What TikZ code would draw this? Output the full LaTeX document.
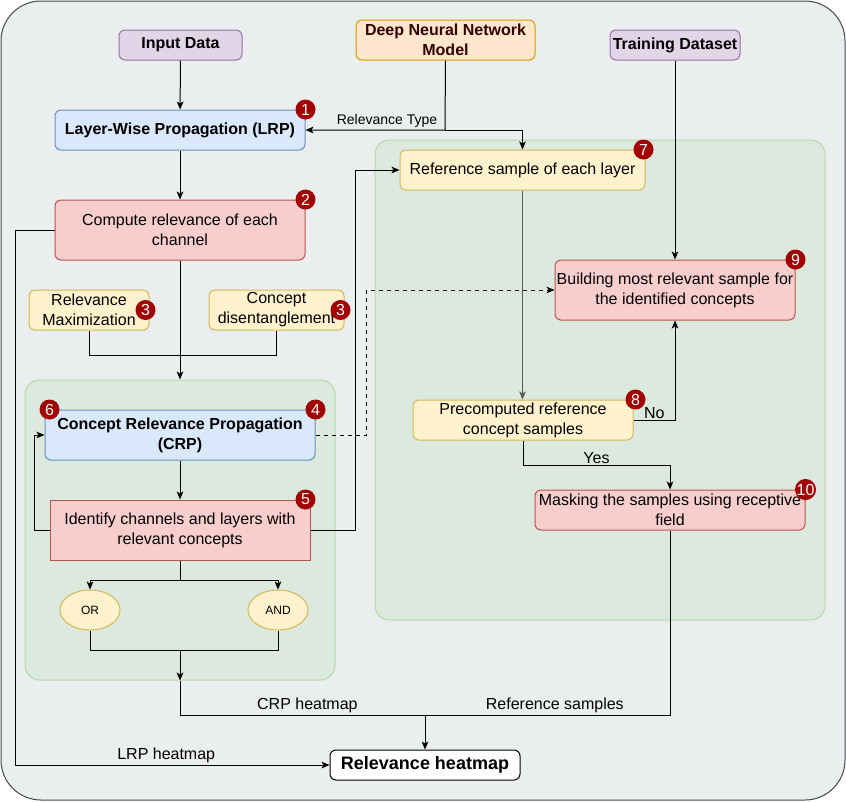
\documentclass[tikz,border=0pt]{standalone}
\usepackage{fontspec}
\setmainfont{Liberation Sans}
\usetikzlibrary{arrows.meta,shapes.geometric}

\definecolor{bgGray}{HTML}{EBEEEE}
\definecolor{frameGray}{HTML}{45494D}
\definecolor{purpleFill}{HTML}{E1D5E7}
\definecolor{purpleLine}{HTML}{9673A6}
\definecolor{orangeFill}{HTML}{FFE6CC}
\definecolor{orangeLine}{HTML}{D79B00}
\definecolor{blueFill}{HTML}{DAE8FC}
\definecolor{blueLine}{HTML}{6C8EBF}
\definecolor{redFill}{HTML}{F8CECC}
\definecolor{redLine}{HTML}{B85450}
\definecolor{yellowFill}{HTML}{FFF2CC}
\definecolor{yellowLine}{HTML}{D6B656}
\definecolor{greenFill}{HTML}{DCE9DE}
\definecolor{greenLine}{HTML}{B5D7A8}
\definecolor{badgeRed}{HTML}{A20000}
\definecolor{modelText}{HTML}{330000}

\tikzset{every picture/.style={line width=0.75pt},
  txt/.style={font=\fontsize{12}{15}\selectfont, align=center, inner sep=0.75pt},
  flowbox/.style={txt, draw, rounded corners=4.5pt},
  purplebox/.style={flowbox, fill=purpleFill, draw=purpleLine, font=\fontsize{12}{15}\selectfont\bfseries},
  orangebox/.style={flowbox, fill=orangeFill, draw=orangeLine, text=modelText, font=\fontsize{12}{15}\selectfont\bfseries},
  bluebox/.style={flowbox, fill=blueFill, draw=blueLine, font=\fontsize{12}{15}\selectfont\bfseries},
  redbox/.style={flowbox, fill=redFill, draw=redLine},
  yellowbox/.style={flowbox, fill=yellowFill, draw=yellowLine},
  gatenode/.style={ellipse, draw=yellowLine, fill=yellowFill, inner sep=0pt, minimum width=45pt, minimum height=30pt, font=\fontsize{9}{10}\selectfont},
  groupbox/.style={draw=greenLine, fill=greenFill, rounded corners=11pt},
  badge/.style={circle, fill=badgeRed, text=white, minimum size=15pt, inner sep=0pt, font=\fontsize{12}{12}\selectfont},
  arr/.style={-{Stealth[length=6pt,width=5pt,inset=1.5pt]}},
  lbl/.style={font=\fontsize{12}{14}\selectfont, inner sep=1pt},
}

\begin{document}
\begin{tikzpicture}[x=0.75pt,y=0.75pt,yscale=-1,xscale=1]
    \useasboundingbox (0,0) rectangle (846,801);
    %Rounded Rect: outer frame
    \draw[draw=frameGray, fill=bgGray, rounded corners=30pt] (1,1) rectangle (845,800);
    %Rounded Rect: groups
    \node[groupbox, minimum width=232.5pt, minimum height=225pt] (crpGroup) at (180,530) {};
    \node[groupbox, minimum width=337.5pt, minimum height=360pt] (refGroup) at (600,380) {};

    % Text Node
    \node[purplebox, minimum width=92.25pt, minimum height=22.5pt] (inData) at (180.5,45) {Input Data};
    % Text Node
    \node[orangebox, minimum width=134.25pt, minimum height=30pt] (dnn) at (445.5,40) {Deep Neural Network\\Model};
    % Text Node
    \node[purplebox, minimum width=97.5pt, minimum height=22.5pt] (trainData) at (675,45) {Training Dataset};
    % Text Node
    \node[bluebox, minimum width=187.5pt, minimum height=30pt] (lrp) at (180,130) {Layer-Wise Propagation (LRP)};
    % Text Node
    \node[redbox, minimum width=187.5pt, minimum height=45pt] (compute) at (180,230) {Compute relevance of each\\channel};
    % Text Node
    \node[yellowbox, minimum width=90pt, minimum height=30pt] (relMax) at (89,310) {Relevance\\Maximization};
    % Text Node
    \node[yellowbox, minimum width=101.25pt, minimum height=30pt] (conDis) at (276.5,310) {Concept\\disentanglement};
    % Text Node
    \node[bluebox, minimum width=202.5pt, minimum height=37.5pt] (crp) at (180,435) {Concept Relevance Propagation\\(CRP)};
    % Text Node
    \node[redbox, rounded corners=0pt, minimum width=195pt, minimum height=45pt] (identify) at (180,530) {Identify channels and layers with\\relevant concepts};
    % Text Node
    \node[gatenode] (orNode) at (90,610) {OR};
    \node[gatenode] (andNode) at (278,610) {AND};
    % Text Node
    \node[flowbox, fill=white, draw=black, minimum width=142.5pt, minimum height=22.5pt, font=\fontsize{13.5}{15}\selectfont\bfseries] (relHeat) at (425,765) {Relevance heatmap};
    % Text Node
    \node[yellowbox, minimum width=183.75pt, minimum height=30pt] (refSample) at (522.5,170) {Reference sample of each layer};
    % Text Node
    \node[redbox, minimum width=180pt, minimum height=45pt] (building) at (675,290) {Building most relevant sample for\\the identified concepts};
    % Text Node
    \node[yellowbox, minimum width=165pt, minimum height=30pt] (precomp) at (523,420) {Precomputed reference\\concept samples};
    % Text Node
    \node[redbox, minimum width=202.5pt, minimum height=30pt] (masking) at (670,510) {Masking the samples using receptive\\field};

    %Badges
    \node[badge] (badgeOne) at (lrp.north east) {1};
    \node[badge] (badgeTwo) at (compute.north east) {2};
    \node[badge] (badgeThreeA) at ([xshift=-3pt]relMax.east) {3};
    \node[badge] (badgeThreeB) at ([xshift=-3pt]conDis.east) {3};
    \node[badge] (badgeFour) at (crp.north east) {4};
    \node[badge] (badgeFive) at ([xshift=-3.75pt]identify.north east) {5};
    \node[badge] (badgeSix) at ([xshift=3.75pt]crp.north west) {6};
    \node[badge] (badgeSeven) at ([xshift=-1.5pt]refSample.north east) {7};
    \node[badge] (badgeEight) at ([xshift=1.5pt]precomp.north east) {8};
    \node[badge] (badgeNine) at (building.north east) {9};
    \node[badge] (badgeTen) at (masking.north east) {10};

    %Straight Lines: left column
    \draw[arr] (inData) -- (lrp);
    \draw[arr] (lrp) -- (compute);
    \draw[arr] (compute.south) -- (crpGroup.north);
    \draw (relMax.south) -- ++(0,25) -| (conDis.south);
    \draw[arr] (crp) -- (identify);
    \draw[arr] (identify.west) -- ++(-15,0) |- (crp.west);
    \coordinate (splitPt) at (180,580);
    \draw (identify.south) -- (splitPt);
    \draw[arr] (splitPt) -| (orNode.north);
    \draw[arr] (splitPt) -| (andNode.north);
    \draw (orNode.south) -- ++(0,20) -| (andNode.south);
    \coordinate (mergePt) at (180,650);
    \draw[arr] (mergePt) -- (crpGroup.south);

    %Straight Lines: model and relevance type
    \coordinate (typeJoin) at (445,130);
    \draw[arr] (dnn.south) -- (typeJoin) -- (lrp.east);
    \draw[arr] (typeJoin) -| (refSample.north);
    \node[lbl, font=\fontsize{10.5}{12}\selectfont] (typeLabel) at (387,121) {Relevance Type};

    %Straight Lines: right column
    \draw[arr] (identify.east) -- ++(45,0) |- (refSample.west);
    \draw[arr, dashed] (crp.east) -- ++(51,0) |- (building.west);
    \draw[arr] (trainData) -- (building);
    \draw[arr, draw=black!65] (refSample.south) -- (refSample.south |- precomp.north);
    \draw[arr] (precomp.east) -| node[lbl, above, pos=0.25] (noLabel) {No} (building.south);
    \draw[arr] (precomp.south) -- ++(0,25) -| node[lbl, above, pos=0.25] (yesLabel) {Yes} (masking.north);

    %Straight Lines: heatmaps
    \coordinate (heatJoin) at (425,715);
    \draw (crpGroup.south) |- node[lbl, above, pos=0.76] (crpLabel) {CRP heatmap} (heatJoin);
    \draw (masking.south) |- node[lbl, above, pos=0.735] (refLabel) {Reference samples} (heatJoin);
    \draw[arr] (heatJoin) -- (relHeat.north);
    \draw[arr] (compute.west) -- ++(-39,0) |- node[lbl, above, pos=0.74] (lrpLabel) {LRP heatmap} (relHeat.west);
\end{tikzpicture}
\end{document}
